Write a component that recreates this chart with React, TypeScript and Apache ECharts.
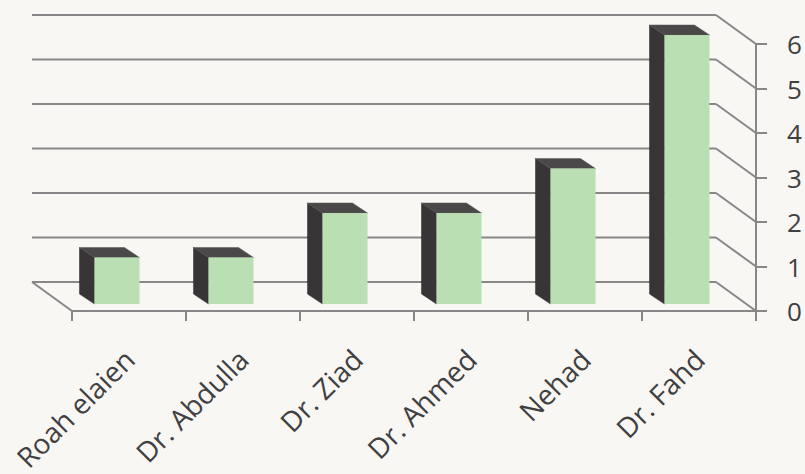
import React, { useEffect, useRef } from 'react';
import * as echarts from 'echarts';

const categories = ['Roah elaien', 'Dr. Abdulla', 'Dr. Ziad', 'Dr. Ahmed', 'Nehad', 'Dr. Fahd'];
const values = [1, 1, 2, 2, 3, 6];
const yTicks = [0, 1, 2, 3, 4, 5, 6];

export default function App() {
  const ref = useRef<HTMLDivElement>(null);
  useEffect(() => {
    const chart = echarts.init(ref.current as HTMLDivElement, null, { renderer: 'svg' });
    const DX = -40;
    const DY = -29;
    const LINE = '#878787';
    const TEXT = '#404040';
    const FONT = 'Open Sans';
    const lineStyle = { color: LINE, width: 2 };

    const option: any = {
      animation: false,
      backgroundColor: '#f9f7f4',
      grid: [
        { left: 72, right: 49, top: 44, bottom: 163 },
        { left: 72, right: 49, top: 44, bottom: 163 },
      ],
      xAxis: [
        {
          type: 'category',
          gridIndex: 0,
          data: categories,
          axisLine: { show: true, lineStyle },
          axisTick: { show: true, length: 10, lineStyle },
          axisLabel: { show: false },
          splitLine: { show: false },
        },
        {
          type: 'category',
          gridIndex: 1,
          data: categories,
          axisLine: { show: false },
          axisTick: { show: false },
          axisLabel: { rotate: 45, margin: 53, fontSize: 28, color: TEXT, fontFamily: FONT },
          splitLine: { show: false },
        },
      ],
      yAxis: [
        {
          type: 'value',
          gridIndex: 0,
          position: 'right',
          min: 0,
          max: 6,
          interval: 1,
          axisLine: { show: true, lineStyle },
          axisTick: { show: true, length: 11, lineStyle },
          axisLabel: { margin: 31, fontSize: 26, color: TEXT, fontFamily: FONT },
          splitLine: { show: false },
        },
        { type: 'value', gridIndex: 1, min: 0, max: 6, interval: 1, show: false },
      ],
      series: [
        {
          type: 'custom',
          xAxisIndex: 0,
          yAxisIndex: 0,
          data: yTicks.map((v) => [0, v]),
          encode: { x: 0, y: 1 },
          silent: true,
          z: 1,
          renderItem: (params: any, api: any) => {
            const v = api.value(1);
            const bw = api.size([1, 0])[0];
            const pl = api.coord([0, v]);
            const pr = api.coord([categories.length - 1, v]);
            const xl = pl[0] - bw / 2;
            const xr = pr[0] + bw / 2;
            const y = pl[1];
            const children: any[] = [
              { type: 'line', shape: { x1: xl + DX, y1: y + DY, x2: xr + DX, y2: y + DY }, style: { stroke: LINE, lineWidth: 2 } },
              { type: 'line', shape: { x1: xr + DX, y1: y + DY, x2: xr, y2: y }, style: { stroke: LINE, lineWidth: 2 } },
            ];
            if (v === 0) {
              children.push({ type: 'line', shape: { x1: xl + DX, y1: y + DY, x2: xl, y2: y }, style: { stroke: LINE, lineWidth: 2 } });
            }
            return { type: 'group', children };
          },
        },
        {
          type: 'custom',
          xAxisIndex: 0,
          yAxisIndex: 0,
          data: values.map((v, i) => [i, v]),
          encode: { x: 0, y: 1 },
          z: 3,
          renderItem: (params: any, api: any) => {
            const i = api.value(0);
            const v = api.value(1);
            const top = api.coord([i, v]);
            const base = api.coord([i, 0]);
            const bw = api.size([1, 0])[0];
            const w = bw * 0.395;
            const fx = top[0] - w / 2 - 12;
            const fyt = top[1] - 9;
            const fyb = base[1] - 7;
            const dx = -15;
            const dy = -10;
            return {
              type: 'group',
              children: [
                {
                  type: 'polygon',
                  shape: { points: [[fx, fyb], [fx, fyt], [fx + dx, fyt + dy], [fx + dx, fyb + dy]] },
                  style: { fill: '#383536', stroke: '#2e2b2c', lineWidth: 0.5 },
                },
                {
                  type: 'polygon',
                  shape: { points: [[fx, fyt], [fx + w, fyt], [fx + w + dx, fyt + dy], [fx + dx, fyt + dy]] },
                  style: { fill: '#4b4849', stroke: '#5a5758', lineWidth: 0.5 },
                },
                {
                  type: 'rect',
                  shape: { x: fx, y: fyt, width: w, height: fyb - fyt },
                  style: { fill: '#b9dfb3' },
                },
              ],
            };
          },
        },
      ],
    };
    chart.setOption(option);
    return () => chart.dispose();
  }, []);
  return <div ref={ref} style={{ position: 'fixed', left: 0, top: 0, width: 805, height: 474 }} />;
}
